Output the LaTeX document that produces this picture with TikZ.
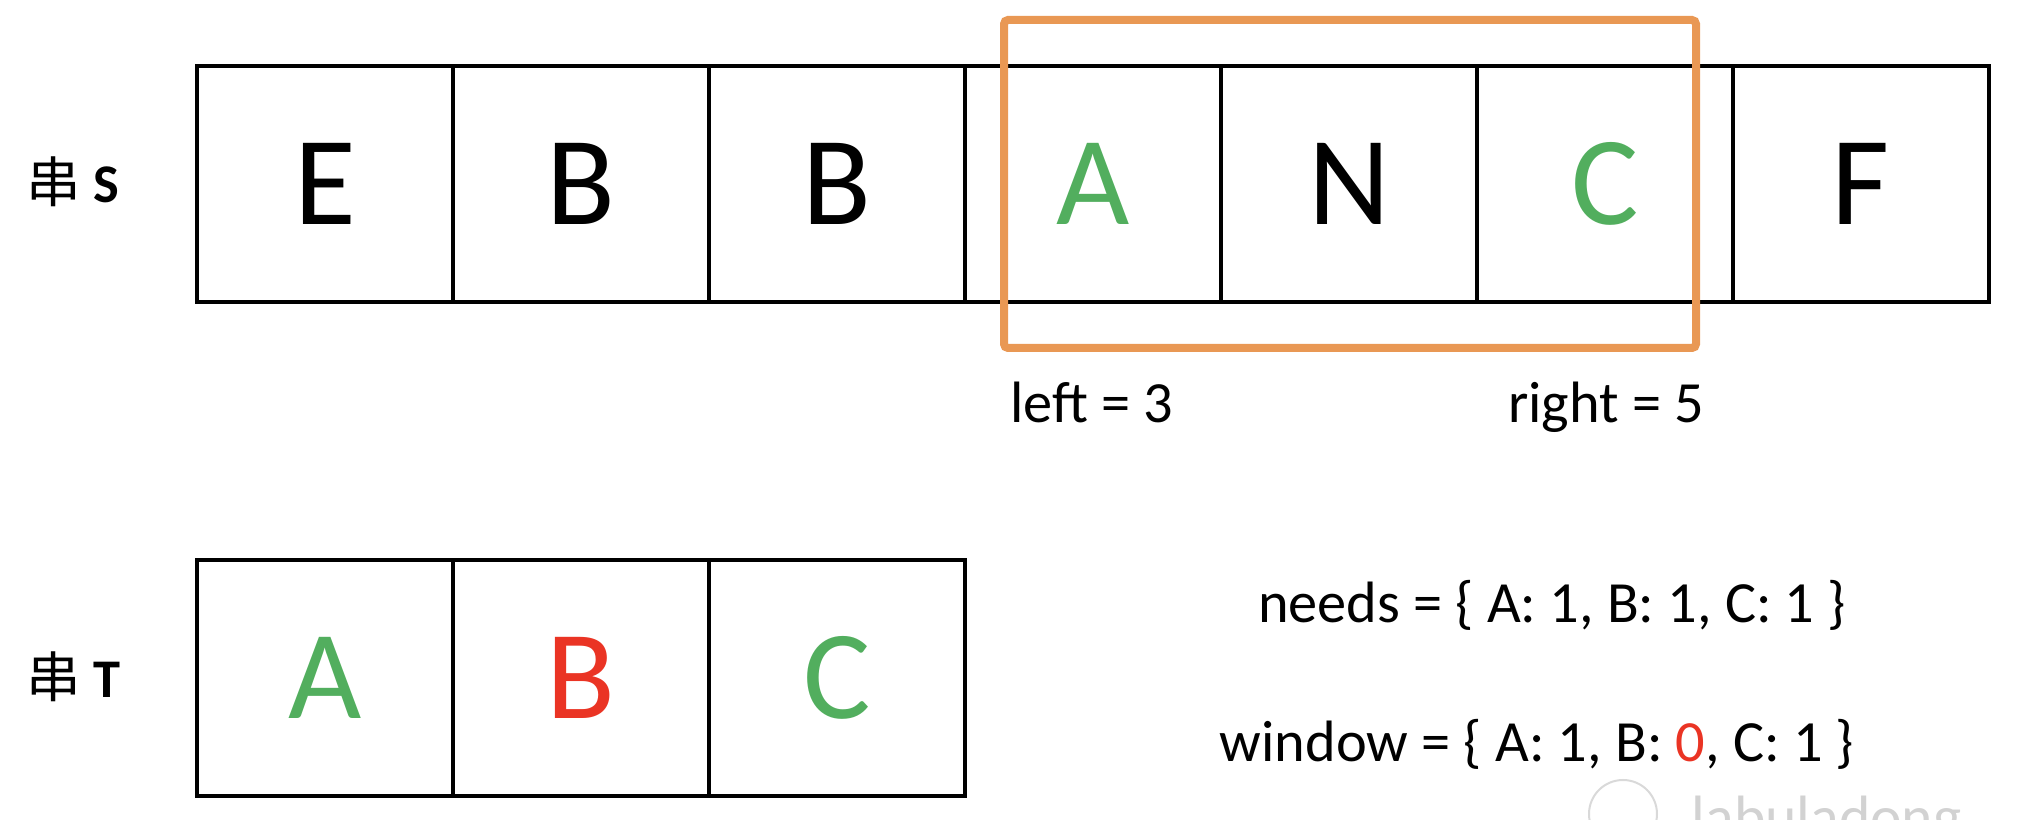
\documentclass[tikz,border=0pt]{standalone}
\usepackage{fontspec}
\setmainfont{Carlito}
\newfontfamily\cjk{Noto Sans CJK SC}
\definecolor{hitgreen}{RGB}{82,174,94}
\definecolor{missred}{RGB}{234,52,36}
\definecolor{winorange}{RGB}{233,152,84}
\tikzset{
    cell/.style={draw, line width=0.4mm, minimum width=25.6mm, minimum height=23.6mm,
        inner sep=0pt, font=\fontsize{36}{40}\selectfont},
    win/.style={draw=winorange, line width=0.8mm, minimum width=69.2mm, minimum height=32.8mm,
        rounded corners=0.4mm},
    note/.style={anchor=base, inner sep=0pt, font=\fontsize{16.6}{19}\selectfont},
    strtag/.style={anchor=base west, inner sep=0pt, font=\fontsize{15.5}{18}\selectfont}
}
\begin{document}
\begin{tikzpicture}[x=0.1mm, y=-0.1mm]%% one pixel is 0.1mm
    \clip (0, 0) rectangle (2032, 820);


        %% string S
        \node[strtag] (stag) at (26, 203){{\cjk 串} \textbf{S}};
        \foreach \ch/\col [count=\i from 0] in {E/black, B/black, B/black, A/hitgreen, N/black, C/hitgreen, F/black}
            \node[cell, text=\col] (s\i) at (325+256*\i, 184){\ch};


        %% the window
        \node[win] (win) at (1350, 184){};
            \node[note] (lft) at (1092, 423){left = 3};
            \node[note] (rgt) at (1606, 423){right = 5};


        %% string T
        \node[strtag] (ttag) at (26, 698){{\cjk 串} \textbf{T}};
        \foreach \ch/\col [count=\i from 0] in {A/hitgreen, B/missred, C/hitgreen}
            \node[cell, text=\col] (t\i) at (325+256*\i, 678){\ch};


        %% counters
        \node[note] (needs) at (1552, 623){needs = \{ A: 1, B: 1, C: 1 \}};
        \node[note] (window) at (1537, 762){window = \{ A: 1, B: \textcolor{missred}{0}, C: 1 \}};


        %% watermark
        \draw[gray!30, line width=0.2mm] (1623, 814) circle[radius=3.4mm];
        \node[anchor=base west, inner sep=0pt, text=gray!35, font=\fontsize{17}{20}\selectfont] (mark) at (1691, 838){labuladong};

\end{tikzpicture}
\end{document}
